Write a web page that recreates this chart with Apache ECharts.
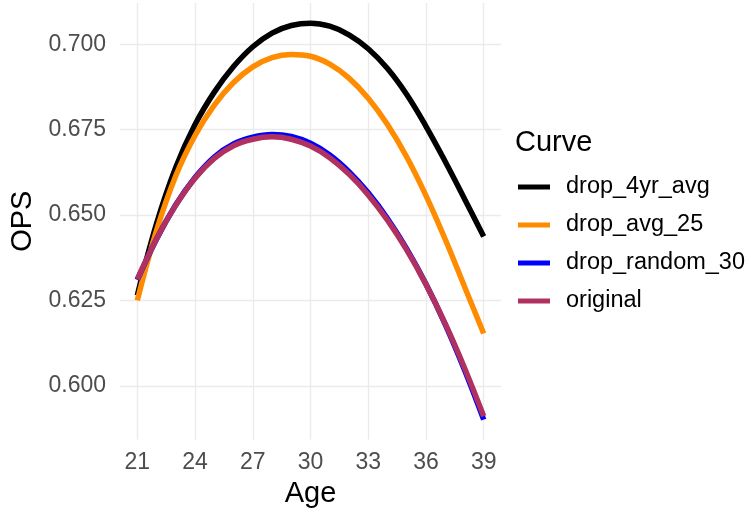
<!DOCTYPE html>
<html>
<head>
<meta charset="utf-8">
<script src="https://cdn.jsdelivr.net/npm/echarts@6/dist/echarts.min.js"></script>
<style>
html,body{margin:0;padding:0;background:#fff;}
#chart{width:751px;height:512px;}
</style>
</head>
<body>
<div id="chart"></div>
<script>
const ages = [21,22,23,24,25,26,27,28,29,30,31,32,33,34,35,36,37,38,39];
const drop_4yr_avg = [0.6265,0.6475,0.6640,0.6765,0.6860,0.6935,0.6993,0.7033,0.7055,0.7062,0.7053,0.7028,0.6987,0.6929,0.6853,0.6760,0.6657,0.6548,0.6437];
const drop_avg_25 = [0.6250,0.6455,0.6615,0.6733,0.6822,0.6888,0.6934,0.6961,0.6970,0.6965,0.6942,0.6901,0.6842,0.6765,0.6670,0.6557,0.6429,0.6291,0.6153];
const drop_random_30 = [0.6310,0.6430,0.6530,0.6610,0.6670,0.6708,0.6728,0.6736,0.6730,0.6710,0.6676,0.6627,0.6565,0.6490,0.6401,0.6298,0.6180,0.6047,0.5901];
const original = [0.6312,0.6430,0.6529,0.6608,0.6666,0.6703,0.6722,0.6729,0.6722,0.6702,0.6668,0.6620,0.6559,0.6485,0.6398,0.6297,0.6182,0.6053,0.5911];
const xTicks = [21,24,27,30,33,36,39];
const yTicks = [0.600,0.625,0.650,0.675,0.700];
const seriesNames = ['drop_4yr_avg','drop_avg_25','drop_random_30','original'];
const seriesColors = ['#000000','#FF8C00','#0000FF','#B03060'];
const seriesValues = [drop_4yr_avg, drop_avg_25, drop_random_30, original];

const chart = echarts.init(document.getElementById('chart'), null, {renderer:'canvas'});
const font = 'Liberation Sans, Arial, sans-serif';
const gridLine = {show:true, lineStyle:{color:'#EBEBEB', width:1.4}};
const option = {
  animation:false,
  backgroundColor:'#ffffff',
  textStyle:{fontFamily:font},
  title:{text:'Curve', left:515, top:128, padding:0,
    textStyle:{fontFamily:font, fontSize:29, fontWeight:'normal', color:'#000'}},
  legend:{
    orient:'vertical', left:518, top:175, padding:0,
    data:seriesNames, icon:'rect', itemWidth:32, itemHeight:5, itemGap:14,
    textStyle:{fontFamily:font, fontSize:23.5, color:'#000', padding:[0,0,0,11]}
  },
  grid:{left:120, right:250, top:3, bottom:72.6, outerBoundsMode:'none', containLabel:false},
  xAxis:{
    type:'value', min:20.1, max:39.9,
    name:'Age', nameLocation:'middle', nameGap:39,
    nameTextStyle:{fontFamily:font, fontSize:29, color:'#000'},
    axisLine:{show:false}, axisTick:{show:false, customValues:xTicks},
    axisLabel:{customValues:xTicks, fontFamily:font, fontSize:23, color:'#4D4D4D', margin:12},
    splitLine:gridLine
  },
  yAxis:{
    type:'value', min:0.5843, max:0.7121,
    name:'OPS', nameLocation:'middle', nameGap:83, nameRotate:90,
    nameTextStyle:{fontFamily:font, fontSize:29, color:'#000'},
    axisLine:{show:false}, axisTick:{show:false, customValues:yTicks},
    axisLabel:{customValues:yTicks, fontFamily:font, fontSize:23, color:'#4D4D4D', margin:14,
      formatter:v=>v.toFixed(3)},
    splitLine:gridLine
  },
  series: seriesNames.map((n,i)=>({
    name:n, type:'line', smooth:0.4, showSymbol:false, symbol:'none',
    data: ages.map((a,j)=>[a, seriesValues[i][j]]),
    lineStyle:{color:seriesColors[i], width:5.5},
    itemStyle:{color:seriesColors[i]}
  }))
};
chart.setOption(option);
</script>
</body>
</html>
